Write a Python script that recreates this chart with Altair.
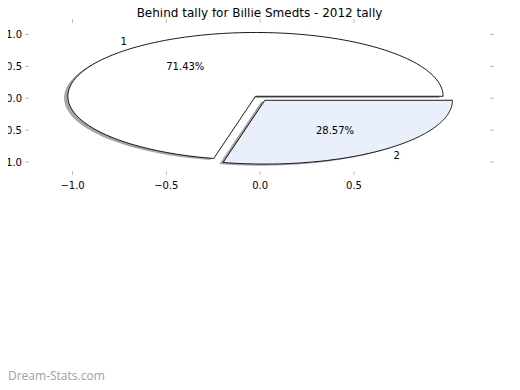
import altair as alt
import numpy as np
import pandas as pd

title_text = "Behind tally for Billie Smedts - 2012 tally"
slice_labels = ["1", "2"]
slice_values = [5, 2]
slice_colors = ["#ffffff", "#eaf0fb"]
explode = [0.04, 0.04]
x_ticks = [-1.0, -0.5, 0.0, 0.5]
y_ticks = [-1.0, -0.5, 0.0, 0.5, 1.0]
x_domain = [-1.232, 1.225]
y_domain = [-1.14, 1.18]
watermark = "Dream-Stats.com"

FONT = "DejaVu Sans"
TICK = "#bdbdbd"
W, H = 461, 148
total = float(sum(slice_values))
xs = alt.Scale(domain=x_domain, nice=False, zero=False)
ys = alt.Scale(domain=y_domain, nice=False, zero=False)
X = lambda f="x": alt.X(f"{f}:Q", scale=xs, axis=None)
Y = lambda f="y": alt.Y(f"{f}:Q", scale=ys, axis=None)

shadow_layers, wedge_layers, text_layers = [], [], []
start = 0.0
for lab, val, col, ex in zip(slice_labels, slice_values, slice_colors, explode):
    sweep = 360.0 * val / total
    t1, t2 = start, start + sweep
    mid = np.deg2rad((t1 + t2) / 2)
    cx, cy = ex * np.cos(mid), ex * np.sin(mid)
    th = np.deg2rad(np.linspace(t1, t2, 150))
    px = np.concatenate([[cx], cx + np.cos(th), [cx]])
    py = np.concatenate([[cy], cy + np.sin(th), [cy]])
    df = pd.DataFrame({"x": px, "y": py, "k": np.arange(len(px))})
    sdf = pd.DataFrame({"x": px - 0.02, "y": py - 0.025, "k": np.arange(len(px))})
    shadow_layers.append(
        alt.Chart(sdf).mark_line(fill="#4d4d4d", fillOpacity=0.5, strokeOpacity=0, strokeWidth=0)
        .encode(x=X(), y=Y(), order="k:Q")
    )
    wedge_layers.append(
        alt.Chart(df).mark_line(fill=col, stroke="black", strokeWidth=0.9, strokeJoin="miter")
        .encode(x=X(), y=Y(), order="k:Q")
    )
    pct = f"{100.0 * val / total:.2f}%"
    tdf = pd.DataFrame({
        "x": [cx + 1.1 * np.cos(mid)], "y": [cy + 1.1 * np.sin(mid)], "t": [lab]})
    pdf = pd.DataFrame({
        "x": [cx + 0.6 * np.cos(mid)], "y": [cy + 0.6 * np.sin(mid)], "t": [pct]})
    text_layers.append(
        alt.Chart(tdf).mark_text(font=FONT, fontSize=10, color="black", dy=1,
                                 align="right" if np.cos(mid) < 0 else "left", baseline="middle")
        .encode(x=X(), y=Y(), text="t:N")
    )
    text_layers.append(
        alt.Chart(pdf).mark_text(font=FONT, fontSize=10, color="black", dy=1,
                                 align="center", baseline="middle")
        .encode(x=X(), y=Y(), text="t:N")
    )
    start = t2

fmt = "replace(format(datum.v, '.1f'), '-', '\u2212')"
xt = pd.DataFrame({"v": x_ticks})
yt = pd.DataFrame({"v": y_ticks})

bottom_ticks = alt.Chart(xt).mark_rule(color=TICK, strokeWidth=1).encode(
    x=X("v"), y=alt.value(H), y2=alt.value(H + 4))
top_ticks = alt.Chart(xt).mark_rule(color=TICK, strokeWidth=1).encode(
    x=X("v"), y=alt.value(-4), y2=alt.value(0))
left_ticks = alt.Chart(yt).mark_rule(color=TICK, strokeWidth=1).encode(
    y=Y("v"), x=alt.value(-4), x2=alt.value(0))
right_ticks = alt.Chart(yt).mark_rule(color=TICK, strokeWidth=1).encode(
    y=Y("v"), x=alt.value(W), x2=alt.value(W + 4))
x_labels = alt.Chart(xt).transform_calculate(lab=fmt).mark_text(
    font=FONT, fontSize=10, color="black", align="center", baseline="middle").encode(
    x=X("v"), y=alt.value(H + 15), text="lab:N")
y_labels = alt.Chart(yt).transform_calculate(lab=fmt).mark_text(
    font=FONT, fontSize=10, color="black", align="right", baseline="middle", dy=1).encode(
    y=Y("v"), x=alt.value(-7), text="lab:N")

wm = alt.Chart(pd.DataFrame({"t": [watermark]})).mark_text(
    font="Open Sans", fontSize=12, color="#a0a0a0", align="left", baseline="middle"
).encode(x=alt.value(-21), y=alt.value(353), text="t:N")

ttl = alt.Chart(pd.DataFrame({"t": [title_text]})).mark_text(
    font=FONT, fontSize=12, color="black", align="center", baseline="alphabetic"
).encode(x=alt.value(W / 2), y=alt.value(-6), text="t:N")

chart = alt.layer(bottom_ticks, top_ticks, left_ticks, right_ticks, x_labels, y_labels,
                  *shadow_layers, *wedge_layers, *text_layers, wm, ttl).properties(
    width=W, height=H,
    autosize=alt.AutoSizeParams(type="none"),
    padding={"left": 21, "top": 15, "right": 22, "bottom": 211},
).configure_view(stroke=None)

chart.save("out.html", embed_options={"renderer": "svg", "actions": False})
